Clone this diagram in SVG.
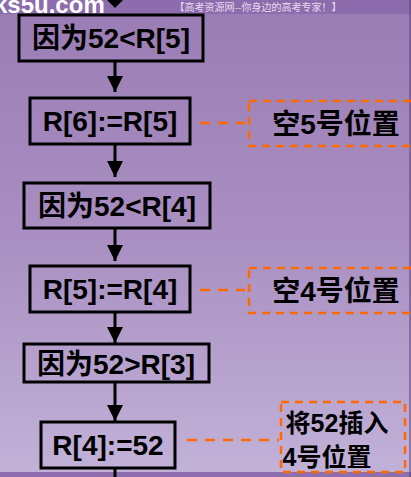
<svg xmlns="http://www.w3.org/2000/svg" width="411" height="477" viewBox="0 0 411 477">
<defs>
<linearGradient id="bg" x1="0" y1="0" x2="0" y2="1">
<stop offset="0" stop-color="#9a7cb4"/>
<stop offset="0.5" stop-color="#a98fc2"/>
<stop offset="1" stop-color="#c2b2d8"/>
</linearGradient>
<marker id="ah" viewBox="0 0 16 16" refX="16" refY="8" markerWidth="16" markerHeight="16" markerUnits="userSpaceOnUse" orient="auto">
<path d="M0 0 L16 8 L0 16 Z" fill="#000"/>
</marker>
</defs>
<style>
.box{fill:none;stroke:#000;stroke-width:3}
.dbox{fill:none;stroke:#ff6a00;stroke-width:2.5;stroke-dasharray:8 6}
.dl{stroke:#ff6a00;stroke-width:2.5;stroke-dasharray:10 8}
.t{font-family:"Liberation Sans","Noto Sans CJK SC",sans-serif;font-weight:bold;font-size:28px;fill:#000;text-anchor:middle}
.n{font-family:"Liberation Sans","Noto Sans CJK SC",sans-serif;font-weight:bold;font-size:25px;fill:#000;text-anchor:middle}
.arr{stroke:#000;stroke-width:3;marker-end:url(#ah)}
</style>
<rect x="0" y="0" width="411" height="477" fill="url(#bg)"/>
<rect x="0" y="0" width="411" height="14" fill="#8c6cac"/>
<rect x="0" y="472" width="411" height="5" fill="#8e6eae"/>
<line x1="410" y1="0" x2="410" y2="477" stroke="#5a3c78" stroke-width="1"/>
<g id="header">
<text x="-6" y="13" font-family="Liberation Sans,sans-serif" font-weight="bold" font-size="24" fill="#fff">ks5u.com</text>
<text x="258" y="11" font-family="Noto Sans CJK SC,sans-serif" font-size="10" fill="#e8dcf0" text-anchor="middle">【高考资源网--你身边的高考专家！】</text>
</g>
<g id="connectors">
<path d="M115 8 L123 0 L107 0 Z" fill="#000"/>
<line class="arr" x1="115" y1="61" x2="115" y2="92"/>
<line class="arr" x1="115" y1="144" x2="115" y2="177"/>
<line class="arr" x1="115" y1="228" x2="115" y2="261"/>
<line class="arr" x1="115" y1="312" x2="115" y2="343"/>
<line class="arr" x1="115" y1="382" x2="115" y2="421"/>
<line x1="115" y1="468" x2="115" y2="477" stroke="#000" stroke-width="3"/>
<line class="dl" x1="200" y1="123" x2="245" y2="123"/>
<line class="dl" x1="200" y1="290" x2="245" y2="290"/>
<line class="dl" x1="187" y1="440" x2="279" y2="440"/>
</g>
<g id="n1"><rect class="box" x="19" y="15" width="184" height="46"/><text class="t" x="111" y="48">因为52&lt;R[5]</text></g>
<g id="n2"><rect class="box" x="30" y="98" width="160" height="46"/><text class="t" x="110" y="131">R[6]:=R[5]</text></g>
<g id="n3"><rect class="box" x="24" y="183" width="186" height="45"/><text class="t" x="117" y="216">因为52&lt;R[4]</text></g>
<g id="n4"><rect class="box" x="30" y="266" width="160" height="46"/><text class="t" x="110" y="299">R[5]:=R[4]</text></g>
<g id="n5"><rect class="box" x="24" y="344" width="185" height="38"/><text class="t" x="116" y="374">因为52&gt;R[3]</text></g>
<g id="n6"><rect class="box" x="41" y="422" width="134" height="46"/><text class="t" x="108" y="455">R[4]:=52</text></g>
<g id="c1"><rect class="dbox" x="249" y="101" width="170" height="45"/><text class="t" x="336" y="134">空5号位置</text></g>
<g id="c2"><rect class="dbox" x="249" y="268" width="170" height="45"/><text class="t" x="336" y="301">空4号位置</text></g>
<g id="c3"><rect class="dbox" x="281" y="402" width="124" height="70"/><text class="n" x="337" y="432">将52插入</text><text class="n" x="327" y="466">4号位置</text></g>
</svg>
